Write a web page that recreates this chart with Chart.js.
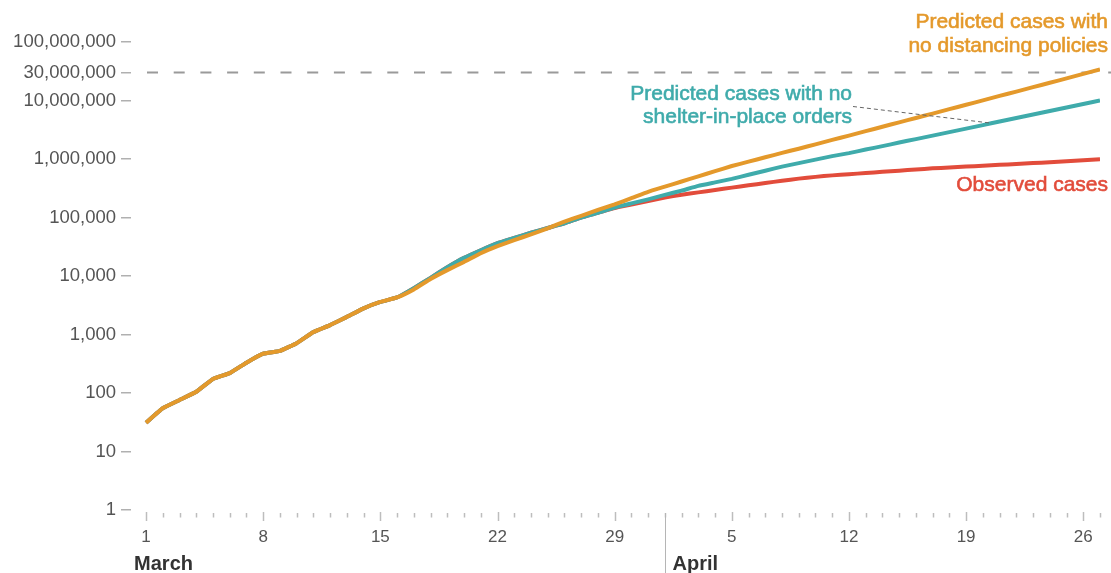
<!DOCTYPE html>
<html>
<head>
<meta charset="utf-8">
<script src="https://cdn.jsdelivr.net/npm/chart.js@4/dist/chart.umd.min.js"></script>
<style>
  html, body { margin: 0; padding: 0; background: #fff; }
</style>
</head>
<body>
<canvas id="casesChart" width="1111" height="573"></canvas>
<script>
// day number counted from 1 March (31 = 1 April)
const days = [0,1,2,3,4,5,6,7,8,9,10,11,12,13,14,15,16,17,18,19,20,21,22,23,24,25,26,27,28,29,
  30,31,32,33,34,35,36,37,38,39,40,41,42,43,44,45,46,47,48,49,50,51,52,53,54,55,56,57]

const noDistancing = [31,55,76,105,174,219,330,470,525,710,1100,1450,2000,2800,3600,4300,5900,8900,
  12600,17400,24500,32400,41200,51300,65300,85100,107000,135000,168000,214000,275000,337000,413000,
  506000,619000,759000,900000,1070000,1270000,1500000,1780000,2120000,2510000,2990000,3560000,4230000,
  5020000,5980000,7110000,8450000,10050000,11970000,14200000,16900000,20100000,23900000,28500000,33900000]

const noShelter = [31,55,76,105,174,219,330,470,525,710,1100,1450,2000,2800,3600,4300,6200,9300,
  14100,20400,27500,36300,44700,55000,66100,79400,100000,120000,148000,174000,204000,243000,288000,
  347000,398000,457000,537000,631000,741000,851000,977000,1120000,1260000,1450000,1660000,1910000,
  2190000,2510000,2880000,3310000,3800000,4370000,5010000,5750000,6610000,7590000,8710000,10000000]

const observed = [31,55,76,105,174,219,330,470,525,710,1100,1450,2000,2800,3600,4300,6200,9300,
  14100,20400,27500,36300,44700,55000,66100,79400,100000,120000,145000,166000,191000,219000,245000,
  269000,295000,324000,355000,389000,425000,462000,495000,525000,550000,575000,603000,631000,661000,
  692000,716000,741000,767000,794000,822000,851000,881000,912000,950000,989000]

const yTicks = [1,10,100,1000,10000,100000,1000000,10000000,30000000,100000000]
const capLine = 30000000
const majorDays = [0,7,14,21,28,35,42,49,56]
const dayLabels = ['1','8','15','22','29','5','12','19','26']
const monthNames = ['March','April']
const monthStarts = [0,31]

const orange = '#e4992b'
const teal = '#3fabab'
const red = '#e24c3b'
const sans = "'Liberation Sans', Arial, sans-serif"

function toPoints(values){
  return values.map(function(v, i){ return {x: days[i], y: v} })
}

// text drawn a touch heavier, like a medium weight
function noteText(ctx, text, x, y){
  ctx.fillText(text, x, y)
  ctx.strokeText(text, x, y)
}

// extra drawing: dashed 30M line, day ticks, months, notes
const decor = {
  id: 'decor',
  beforeDatasetsDraw(chart){
    const ctx = chart.ctx
    const area = chart.chartArea
    const y = chart.scales.y.getPixelForValue(capLine)
    ctx.save()
    ctx.strokeStyle = '#9a9a9a'
    ctx.lineWidth = 2
    ctx.setLineDash([11, 15.7])
    ctx.beginPath()
    ctx.moveTo(area.left + 16, y)
    ctx.lineTo(chart.width, y)
    ctx.stroke()
    ctx.restore()
  },
  afterDraw(chart){
    const ctx = chart.ctx
    const xs = chart.scales.x
    const ys = chart.scales.y
    const bottom = chart.chartArea.bottom
    ctx.save()

    // day ticks
    ctx.strokeStyle = '#bdbdbd'
    ctx.lineWidth = 1.5
    days.forEach(function(d){
      const x = Math.round(xs.getPixelForValue(d)) + 0.5
      const major = majorDays.includes(d)
      ctx.beginPath()
      ctx.moveTo(x, bottom + (major ? 2 : 3))
      ctx.lineTo(x, bottom + (major ? 11 : 7.5))
      ctx.stroke()
    })

    // month separator and names
    const sepX = Math.round(xs.getPixelForValue(monthStarts[1])) + 0.5
    ctx.strokeStyle = '#b5b5b5'
    ctx.lineWidth = 1
    ctx.beginPath()
    ctx.moveTo(sepX, bottom + 3)
    ctx.lineTo(sepX, chart.height)
    ctx.stroke()

    ctx.fillStyle = '#333'
    ctx.font = 'bold 20px ' + sans
    ctx.textAlign = 'left'
    ctx.textBaseline = 'alphabetic'
    ctx.fillText(monthNames[0], xs.getPixelForValue(monthStarts[0]) - 12, bottom + 60)
    ctx.fillText(monthNames[1], sepX + 7, bottom + 60)

    // series notes
    const right = chart.width - 3
    ctx.font = '21px ' + sans
    ctx.textAlign = 'right'
    ctx.lineWidth = 0.6
    ctx.fillStyle = orange
    ctx.strokeStyle = orange
    noteText(ctx, 'Predicted cases with', right, 28)
    noteText(ctx, 'no distancing policies', right, 52)
    ctx.fillStyle = teal
    ctx.strokeStyle = teal
    noteText(ctx, 'Predicted cases with no', 852, 100)
    noteText(ctx, 'shelter-in-place orders', 852, 123)
    ctx.fillStyle = red
    ctx.strokeStyle = red
    noteText(ctx, 'Observed cases', right, ys.getPixelForValue(observed[observed.length - 1]) + 32)

    // leader from the teal note to its line
    const tx = xs.getPixelForValue(50.5)
    const ty = ys.getPixelForValue(4100000)
    ctx.strokeStyle = '#666'
    ctx.lineWidth = 1
    ctx.setLineDash([4, 3])
    ctx.beginPath()
    ctx.moveTo(853, 106.5)
    ctx.lineTo(tx, ty)
    ctx.stroke()
    ctx.restore()
  }
}

new Chart(document.getElementById('casesChart'), {
  type: 'line',
  data: {
    datasets: [
      {label: 'Observed cases', data: toPoints(observed), borderColor: red, order: 3},
      {label: 'Predicted cases with no shelter-in-place orders', data: toPoints(noShelter), borderColor: teal, order: 2},
      {label: 'Predicted cases with no distancing policies', data: toPoints(noDistancing), borderColor: orange, order: 1}
    ]
  },
  options: {
    responsive: false,
    animation: false,
    devicePixelRatio: 1,
    layout: {padding: {top: 42, right: 11, left: 0, bottom: 0}},
    elements: {
      point: {radius: 0},
      line: {borderWidth: 4, tension: 0.1, borderCapStyle: 'butt', borderJoinStyle: 'round'}
    },
    plugins: {legend: {display: false}, tooltip: {enabled: false}},
    scales: {
      x: {
        type: 'linear',
        min: -0.9,
        max: 57,
        afterBuildTicks: function(scale){ scale.ticks = majorDays.map(function(v){ return {value: v} }) },
        afterFit: function(scale){ scale.height = 63 },
        ticks: {
          autoSkip: false,
          maxRotation: 0,
          padding: 9,
          color: '#555',
          font: {family: sans, size: 17},
          callback: function(v, i){ return dayLabels[i] }
        },
        grid: {display: false},
        border: {display: false}
      },
      y: {
        type: 'logarithmic',
        min: 1,
        max: 100000000,
        afterBuildTicks: function(scale){ scale.ticks = yTicks.map(function(v){ return {value: v} }) },
        afterFit: function(scale){ scale.width = 131 },
        ticks: {
          autoSkip: false,
          padding: 5,
          color: '#555',
          font: {family: sans, size: 18.5},
          callback: function(v){ return Number(v).toLocaleString('en-US') }
        },
        grid: {drawOnChartArea: false, tickLength: 10, color: '#b0b0b0', lineWidth: 1.5},
        border: {display: false}
      }
    }
  },
  plugins: [decor]
})
</script>
</body>
</html>
